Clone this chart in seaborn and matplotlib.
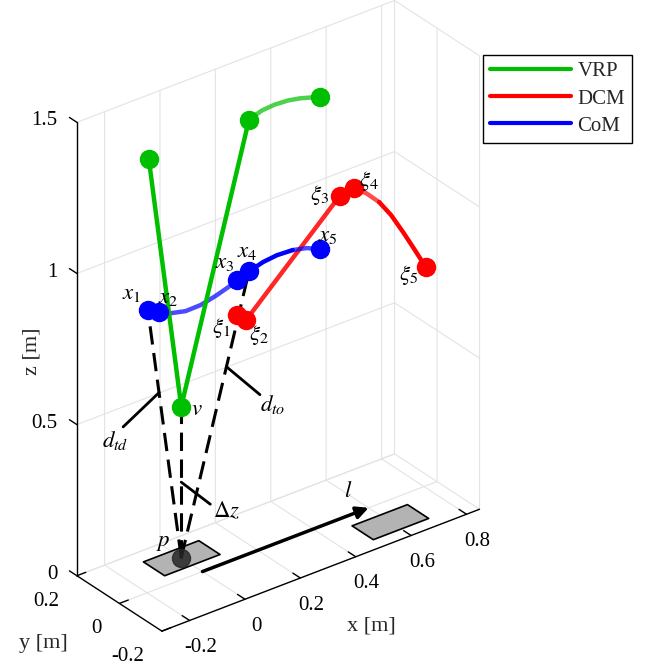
import numpy as np
import matplotlib
matplotlib.use("Agg")
import matplotlib.pyplot as plt
import seaborn as sns
from matplotlib.patches import FancyArrowPatch
from matplotlib.lines import Line2D
from matplotlib.ticker import FormatStrFormatter
from mpl_toolkits.mplot3d import proj3d
from mpl_toolkits.mplot3d.art3d import Poly3DCollection

# ---------------- data ----------------
# CoM markers x1..x5
com_x = [-0.197, -0.158, 0.125, 0.168, 0.423]
com_y = [0.0, 0.0, 0.0, 0.0, 0.0]
com_z = [0.934, 0.913, 0.920, 0.934, 0.918]
com_stance_x = [-0.158, -0.115, -0.061, -0.007, 0.047, 0.093, 0.125]
com_stance_z = [0.913, 0.895, 0.883, 0.884, 0.895, 0.908, 0.920]
com_flight_x = [0.168, 0.219, 0.269, 0.326, 0.376, 0.423]
com_flight_z = [0.934, 0.947, 0.952, 0.949, 0.938, 0.918]

# DCM markers xi1..xi5
dcm_x = [0.125, 0.158, 0.495, 0.548, 0.806]
dcm_y = [0.0, 0.0, 0.0, 0.0, 0.0]
dcm_z = [0.804, 0.777, 1.068, 1.076, 0.724]
dcm_flight_x = [0.548, 0.591, 0.638, 0.681, 0.724, 0.767, 0.806]
dcm_flight_z = [1.076, 1.044, 0.998, 0.940, 0.869, 0.794, 0.724]

# VRP markers (touch-down, v, take-off, end)
vrp_x = [-0.194, 0.0, 0.168, 0.423]
vrp_y = [0.0, 0.1, 0.0, 0.0]
vrp_z = [1.434, 0.5, 1.436, 1.420]
vrp_flight_x = [0.168, 0.215, 0.262, 0.308, 0.351, 0.394, 0.423]
vrp_flight_z = [1.436, 1.450, 1.453, 1.450, 1.442, 1.430, 1.420]

# foot positions and size
foot_x = [0.0, 0.6]
foot_y = [0.1, -0.1]
foot_len = 0.2
foot_wid = 0.1
p_pt = [0.0, 0.1, 0.0]
step_l = 0.6

com_labels = [r"$x_1$", r"$x_2$", r"$x_3$", r"$x_4$", r"$x_5$"]
dcm_labels = [r"$\xi_1$", r"$\xi_2$", r"$\xi_3$", r"$\xi_4$", r"$\xi_5$"]
series_names = ["VRP", "DCM", "CoM"]

x_ticks = [-0.2, 0, 0.2, 0.4, 0.6, 0.8]
y_ticks = [-0.2, 0, 0.2]
z_ticks = [0, 0.5, 1, 1.5]

# ---------------- style ----------------
sns.set_theme(style="white")
plt.rcParams["font.family"] = ["Liberation Serif", "DejaVu Serif"]
plt.rcParams["mathtext.fontset"] = "stix"
plt.rcParams["axes.unicode_minus"] = False
plt.rcParams["grid.color"] = "#e3e3e3"
plt.rcParams["grid.linewidth"] = 0.8

GREEN, RED, BLUE = sns.color_palette(["#00bf00", "#ff0000", "#0000ff"])

fig = plt.figure(figsize=(6.45, 6.63), dpi=100)
ax = fig.add_axes([-53 / 645, 16 / 663, 1.0, 645 / 663], projection="3d")
ax.set_proj_type("ortho")
ax.computed_zorder = False
ax.set_xlim(-0.3, 0.847)
ax.set_ylim(-0.2, 0.2)
ax.set_zlim(0, 1.5)
ax.set_box_aspect((1.147, 0.4, 1.5), zoom=1.014)
ax.view_init(elev=30, azim=-127.5)


def nudge(text, dx, dy):
    """Shift a 3D-axis text by (dx, dy) pixels each time the axis places it."""
    orig = text.set_position

    def set_position(xy, _orig=orig):
        d = ax.transData.transform(xy)
        _orig(tuple(ax.transData.inverted().transform((d[0] + dx, d[1] + dy))))

    text.set_position = set_position


tick_out = {"x": 1.1, "y": 0.35, "z": 1.1}
for name, axis in (("x", ax.xaxis), ("y", ax.yaxis), ("z", ax.zaxis)):
    axis.set_pane_color((1, 1, 1, 0))
    axis.pane.set_edgecolor("#e0e0e0")
    axis.line.set_color("black")
    axis.line.set_linewidth(1.0)
    axis._axinfo["grid"].update(color="#e3e3e3", linewidth=0.8)
    axis._axinfo["tick"]["inward_factor"] = 0.0
    axis._axinfo["tick"]["outward_factor"] = tick_out[name]
    axis._axinfo["tick"]["linewidth"] = {True: 1.0, False: 0.5}
    axis.set_major_formatter(FormatStrFormatter("%g"))
# z ticks point along +y as in the reference
ax.zaxis._get_tickdir = lambda position: 1
ax.grid(True)
ax.set_xticks(x_ticks)
ax.set_yticks(y_ticks)
ax.set_zticks(z_ticks)
ax.tick_params(axis="both", labelsize=15, colors="black")
ax.zaxis.set_tick_params(labelsize=15, colors="black")
for t in ax.xaxis.get_major_ticks():
    t.label1.set_va("center")
    nudge(t.label1, 7, -3)
for t in ax.yaxis.get_major_ticks():
    t.label1.set_ha("right")
    t.label1.set_va("center")
    nudge(t.label1, -3, 2)
for t in ax.zaxis.get_major_ticks():
    t.label1.set_ha("right")
    t.label1.set_va("baseline")

ax.xaxis.set_rotate_label(False)
ax.yaxis.set_rotate_label(False)
ax.zaxis.set_rotate_label(False)
ax.set_xlabel("x [m]", fontsize=16, rotation=0)
ax.set_ylabel("y [m]", fontsize=16, rotation=0)
ax.set_zlabel("z [m]", fontsize=16, rotation=90)
nudge(ax.xaxis.label, 42, -3)
nudge(ax.yaxis.label, -43, 19)
nudge(ax.zaxis.label, -3, 5)

# ---------------- feet ----------------
for fx, fy in zip(foot_x, foot_y):
    verts = [[(fx - foot_len / 2, fy - foot_wid / 2, 0),
              (fx + foot_len / 2, fy - foot_wid / 2, 0),
              (fx + foot_len / 2, fy + foot_wid / 2, 0),
              (fx - foot_len / 2, fy + foot_wid / 2, 0)]]
    poly = Poly3DCollection(verts, facecolor="#b3b3b3", edgecolor="black",
                            linewidth=1.2, alpha=1.0, zorder=1)
    ax.add_collection3d(poly)


class Arrow3D(FancyArrowPatch):
    def __init__(self, xs, ys, zs, *args, **kwargs):
        super().__init__((0, 0), (0, 0), *args, **kwargs)
        self._verts3d = xs, ys, zs

    def do_3d_projection(self, renderer=None):
        xs3d, ys3d, zs3d = self._verts3d
        xs, ys, zs = proj3d.proj_transform(xs3d, ys3d, zs3d, self.axes.M)
        self.set_positions((xs[0], ys[0]), (xs[1], ys[1]))
        return np.min(zs)


arrow = Arrow3D([0, step_l], [0, 0], [0, 0], arrowstyle="-|>", mutation_scale=18,
                lw=2.5, color="black", shrinkA=0, shrinkB=0, zorder=2)
ax.add_artist(arrow)

# ---------------- dashed leg lines ----------------
dash = dict(color="black", lw=2.2, linestyle=(0, (6, 2.8)), zorder=3)
ax.plot([p_pt[0], com_x[0]], [p_pt[1], com_y[0]], [p_pt[2], com_z[0]], **dash)
ax.plot([p_pt[0], com_x[3]], [p_pt[1], com_y[3]], [p_pt[2], com_z[3]], **dash)
ax.plot([p_pt[0], vrp_x[1]], [p_pt[1], vrp_y[1]], [p_pt[2], vrp_z[1]], **dash)

# leader lines for the annotations
lead = dict(color="black", lw=2.0, zorder=3)
ax.plot([-0.131, -0.261], [0.0333, 0.0333], [0.623, 0.555], **lead)
ax.plot([0.112, 0.233], [0.0333, 0.0333], [0.623, 0.488], **lead)
ax.plot([0.0, 0.105], [0.1, 0.1], [0.25, 0.14], **lead)

# ---------------- trajectories ----------------
lw = 3.2
# CoM
ax.plot(com_x[0:2], com_y[0:2], com_z[0:2], color=BLUE, lw=lw, zorder=4,
        solid_capstyle="round")
ax.plot(com_stance_x, [0] * len(com_stance_x), com_stance_z, color=BLUE, lw=lw,
        alpha=0.7, zorder=4, solid_capstyle="round")
ax.plot(com_x[2:4], com_y[2:4], com_z[2:4], color=BLUE, lw=lw, zorder=4)
ax.plot(com_flight_x[:4], [0] * 4, com_flight_z[:4], color=BLUE, lw=lw, zorder=4,
        solid_capstyle="round")
ax.plot(com_flight_x[3:], [0] * 3, com_flight_z[3:], color=BLUE, lw=lw, alpha=0.7,
        zorder=4, solid_capstyle="round")

# DCM
ax.plot(dcm_x[0:2], dcm_y[0:2], dcm_z[0:2], color=RED, lw=lw, zorder=3.5)
ax.plot(dcm_x[1:3], dcm_y[1:3], dcm_z[1:3], color=RED, lw=lw, alpha=0.85, zorder=3.5,
        solid_capstyle="round")
ax.plot(dcm_x[2:4], dcm_y[2:4], dcm_z[2:4], color=RED, lw=lw, zorder=3.5)
ax.plot(dcm_flight_x[:3], [0] * 3, dcm_flight_z[:3], color=RED, lw=lw, alpha=0.7,
        zorder=3.5, solid_capstyle="round")
ax.plot(dcm_flight_x[2:], [0] * 5, dcm_flight_z[2:], color=RED, lw=lw, zorder=3.5,
        solid_capstyle="round")

# VRP
ax.plot(vrp_x[0:3], vrp_y[0:3], vrp_z[0:3], color=GREEN, lw=lw, zorder=5,
        solid_capstyle="round")
ax.plot(vrp_flight_x, [0] * len(vrp_flight_x), vrp_flight_z, color=GREEN, lw=lw,
        alpha=0.7, zorder=5, solid_capstyle="round")

# markers
ms = 13
ax.plot(com_x, com_y, com_z, "o", color=BLUE, ms=ms, zorder=7)
ax.plot(dcm_x, dcm_y, dcm_z, "o", color=RED, ms=ms, zorder=7)
ax.plot(vrp_x, vrp_y, vrp_z, "o", color=GREEN, ms=ms, zorder=7)
ax.plot([p_pt[0]], [p_pt[1]], [p_pt[2]], "o", color="#262626", alpha=0.85, ms=13,
        zorder=8)

# ---------------- labels (placed at the projected 3D points) ----------------
fig.canvas.draw()  # computes the 3D projection matrix ax.M


def txt(x, y, z, s, dx, dy, ha="center", va="center", size=16.5):
    px, py, _ = proj3d.proj_transform(x, y, z, ax.M)
    ax.annotate(s, xy=(px, py), xycoords="data", xytext=(dx, dy),
                textcoords="offset points", ha=ha, va=va, fontsize=size,
                zorder=10, color="black", annotation_clip=False)


txt(-0.261, 0.0333, 0.555, r"$d_{td}$", -6, -10)
txt(0.233, 0.0333, 0.488, r"$d_{to}$", 9, -7)
txt(0.105, 0.1, 0.14, r"$\Delta z$", 12, -5)
txt(step_l, 0, 0, r"$l$", -15, 12)

com_off = [(-12, 12), (7, 11), (-9, 13), (-1, 14), (6, 10)]
dcm_off = [(-11, -9), (9, -11), (-14, 1), (11, 5), (-12, -6)]
for i in range(5):
    txt(com_x[i], com_y[i], com_z[i], com_labels[i], *com_off[i])
    txt(dcm_x[i], dcm_y[i], dcm_z[i], dcm_labels[i], *dcm_off[i])
txt(vrp_x[1], vrp_y[1], vrp_z[1], r"$v$", 11, -2)
txt(p_pt[0], p_pt[1], p_pt[2], r"$p$", -13, 11)

# ---------------- legend ----------------
handles = [Line2D([], [], color=c, lw=3) for c in (GREEN, RED, BLUE)]
leg = fig.legend(handles, series_names, loc="upper left",
                 bbox_to_anchor=(483 / 645, 1 - 55 / 663), fontsize=15,
                 frameon=True, fancybox=False, edgecolor="black", framealpha=1,
                 handlelength=3.9, labelspacing=0.36, borderpad=0.33,
                 handletextpad=0.3, borderaxespad=0)
leg.get_frame().set_linewidth(1.0)

fig.savefig("out.png", dpi=100)
